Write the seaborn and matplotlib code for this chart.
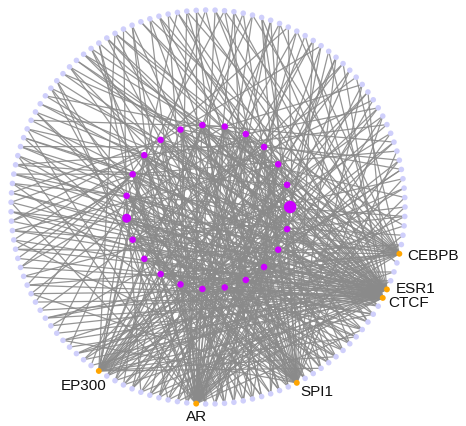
import numpy as np
import pandas as pd
import matplotlib
matplotlib.use("Agg")
import matplotlib.pyplot as plt
from matplotlib.collections import LineCollection
import seaborn as sns

# ---- network data -------------------------------------------------------
N_OUTER = 131          # target genes on the outer ring (hubs included)
N_INNER = 23           # co-factors on the inner ring

hub_names = ["CEBPB", "ESR1", "CTCF", "SPI1", "AR", "EP300"]
hub_slots = [5, 9, 10, 23, 34, 45]          # clockwise slot on the outer ring

# hub -> outer-ring slots it regulates
hub_outer = {
    "CTCF":  [36, 39, 42, 47, 49, 51, 53, 55, 57, 58, 60, 62, 64, 66, 68, 70, 72,
              75, 78, 81, 84, 87, 91, 95, 99, 104, 109, 114],
    "ESR1":  [37, 40, 43, 46, 48, 50, 52, 54, 56, 59, 61, 63, 65, 67, 69, 71, 74,
              77, 80, 83, 86, 89, 93, 97, 101, 106, 112, 118],
    "CEBPB": [38, 44, 48, 53, 57, 61, 65, 69, 73, 76, 79, 82, 85, 88, 92, 96, 100,
              103, 108, 116],
    "SPI1":  [50, 56, 62, 68, 73, 76, 79, 82, 85, 88, 90, 93, 96, 98, 100, 102,
              105, 107, 110, 113, 117, 121, 125],
    "AR":    [0, 3, 8, 14, 66, 71, 74, 80, 86, 90, 92, 94, 97, 99, 101, 103, 105,
              108, 111, 113, 115, 117, 119, 121, 123, 126, 128, 130],
    "EP300": [1, 4, 7, 12, 15, 18, 20, 88, 95, 106, 110, 114, 118, 120, 122, 124,
              127, 129],
}

# hub -> inner-ring nodes it binds
hub_inner = {
    "CTCF":  [0, 3, 5, 8, 10, 12, 14, 17, 19, 21],
    "ESR1":  [1, 4, 6, 9, 11, 13, 15, 18, 20, 22],
    "CEBPB": [2, 7, 12, 16, 20],
    "SPI1":  [3, 6, 9, 11, 14, 16, 19, 22],
    "AR":    [0, 2, 4, 5, 7, 8, 10, 13, 15, 17, 18, 20, 21],
    "EP300": [0, 2, 4, 6, 9, 11, 14],
}

# inner-ring node -> outer-ring slots
inner_outer = [
    [11, 26, 41, 58, 77, 95, 112],
    [13, 28, 52, 70, 88, 104, 121],
    [16, 30, 47, 63, 81, 99, 115],
    [19, 32, 54, 72, 91, 109, 126],
    [21, 36, 59, 78, 94, 120, 2],
    [24, 39, 61, 75, 93, 117, 6],
    [12, 27, 43, 60, 84, 102, 124],
    [14, 29, 46, 64, 83, 111, 127],
    [17, 31, 49, 67, 87, 107, 130],
    [20, 33, 55, 62, 66, 70, 74, 122],
    [22, 35, 57, 59, 64, 69, 73, 125],
    [25, 40, 51, 68, 80, 100, 1],
    [11, 18, 26, 56, 71, 89, 119, 3],
    [13, 24, 37, 79, 98, 116, 128, 0],
    [15, 28, 42, 86, 103, 114, 4],
    [17, 31, 44, 90, 108, 123, 7],
    [19, 27, 33, 96, 110, 129, 8],
    [21, 30, 38, 85, 105, 118, 2],
    [12, 22, 48, 76, 97, 113, 127],
    [14, 25, 50, 65, 92, 101, 120],
    [16, 29, 53, 67, 82, 106, 126],
    [18, 32, 41, 63, 84, 104, 124],
    [20, 35, 47, 72, 87, 111, 1],
]

# extra co-factor links of the lower-ring genes (outer slot -> inner nodes)
lower_links = {
    11: [7, 15], 12: [9, 16], 13: [5, 11], 14: [10, 17], 15: [6, 12],
    16: [8, 13], 17: [4, 11], 18: [9, 14], 19: [7, 12], 20: [5, 10],
    21: [8, 15], 22: [6, 13], 24: [4, 9], 25: [7, 11], 26: [3, 10],
    27: [6, 12], 28: [5, 8], 29: [2, 11], 30: [4, 9], 31: [3, 7],
    32: [1, 10], 33: [5, 12], 35: [2, 6], 36: [0, 4], 37: [3, 22],
    38: [1, 5], 39: [0, 21], 40: [2, 20], 41: [3, 6], 42: [1, 22],
    43: [0, 4], 44: [2, 19],
}

# relative importance of the inner-ring nodes (sets marker size)
inner_weight = [4, 1, 1, 1, 1, 1, 1, 1, 1, 1, 1, 1, 2, 1, 1, 1, 1, 1, 1, 1, 1, 1, 1]

# ---- circular layout ----------------------------------------------------
R_INNER = 0.417


def outer_pos(slot):
    a = -2 * np.pi * slot / N_OUTER
    return np.cos(a), np.sin(a)


def inner_pos(k):
    a = 2 * np.pi * k / N_INNER
    return R_INNER * np.cos(a), R_INNER * np.sin(a)


hub_slot = dict(zip(hub_names, hub_slots))

segments = []
for hub in hub_names:
    hx, hy = outer_pos(hub_slot[hub])
    for s in hub_outer[hub]:
        segments.append([(hx, hy), outer_pos(s)])
    for k in hub_inner[hub]:
        segments.append([(hx, hy), inner_pos(k)])
for k, slots in enumerate(inner_outer):
    ix, iy = inner_pos(k)
    for s in slots:
        segments.append([(ix, iy), outer_pos(s)])
for s, ks in lower_links.items():
    for k in ks:
        segments.append([outer_pos(s), inner_pos(k)])

rows = []
for s in range(N_OUTER):
    x, y = outer_pos(s)
    kind = "hub" if s in hub_slots else "target"
    rows.append({"x": x, "y": y, "kind": kind, "size": kind})
for k in range(N_INNER):
    x, y = inner_pos(k)
    rows.append({"x": x, "y": y, "kind": "cofactor", "size": f"w{inner_weight[k]}"})
nodes = pd.DataFrame(rows)

# ---- drawing ------------------------------------------------------------
sns.set_theme(style="white")
plt.rcParams["font.family"] = ["Liberation Sans", "DejaVu Sans"]

fig = plt.figure(figsize=(4.66, 4.26), dpi=100)
ax = fig.add_axes([0, 0, 1, 1])

ax.add_collection(LineCollection(segments, colors="#8a8a8a", linewidths=0.9,
                                 alpha=0.9, zorder=1))

sns.scatterplot(data=nodes, x="x", y="y", hue="kind", size="size",
                palette={"target": "#cfcffb", "hub": "#ffa500", "cofactor": "#cc00ff"},
                sizes={"target": 16, "hub": 18, "w1": 22, "w2": 42, "w4": 80},
                linewidth=0, legend=False, ax=ax, zorder=3)

label_offsets = {
    "CEBPB": ((5.5, -1.5), "left"),
    "ESR1": ((6.3, 0.3), "left"),
    "CTCF": ((4.1, -4.0), "left"),
    "SPI1": ((2.4, -6.6), "left"),
    "AR": ((0.5, -9.4), "center"),
    "EP300": ((-10.7, -10.8), "center"),
}
for hub in hub_names:
    off, ha = label_offsets[hub]
    ax.annotate(hub, outer_pos(hub_slot[hub]), xytext=off, textcoords="offset points",
                ha=ha, va="center", fontsize=11, color="#111111", zorder=4)

ax.set_xlim(-208 / 197, 258 / 197)
ax.set_ylim(-219 / 197, 207 / 197)
ax.set_aspect("equal")
ax.axis("off")

fig.savefig("out.png", dpi=100, facecolor="white")
